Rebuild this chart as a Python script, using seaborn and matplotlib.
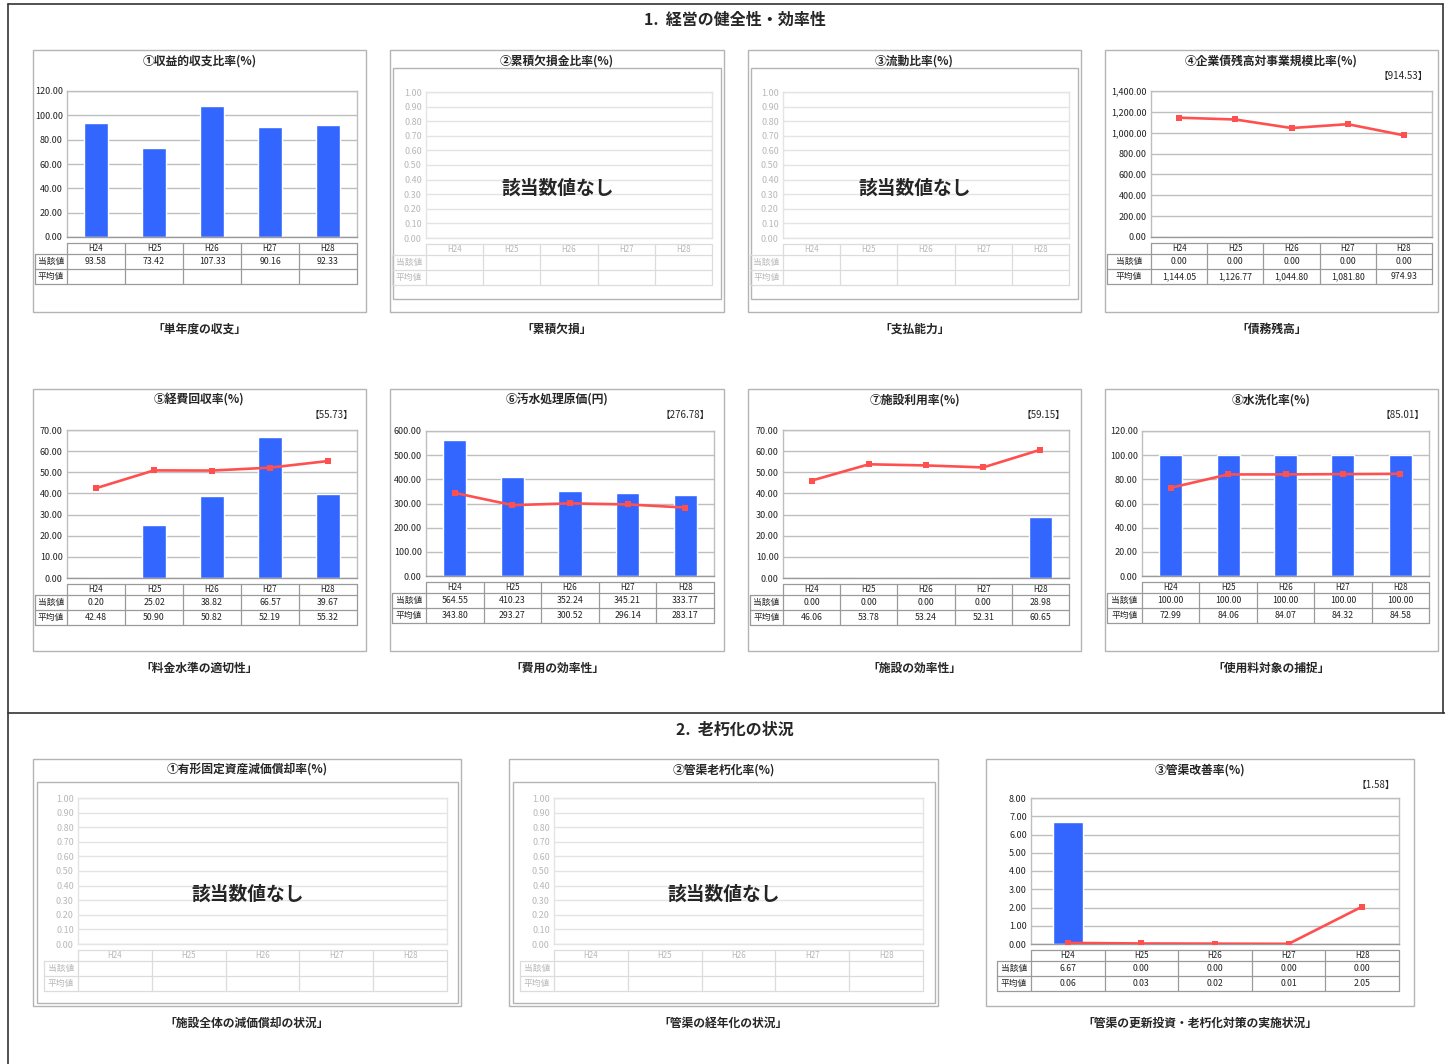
import numpy as np
import pandas as pd
import seaborn as sns
import matplotlib.pyplot as plt
from matplotlib.patches import Rectangle

sns.set_theme(style="white")
plt.rcParams['font.family'] = ['Noto Sans CJK JP', 'DejaVu Sans']

W, H = 1445, 1064
years = ["H24", "H25", "H26", "H27", "H28"]

# ---- values ----
p1_cur = [93.58, 73.42, 107.33, 90.16, 92.33]
p4_cur = [0.00, 0.00, 0.00, 0.00, 0.00]
p4_avg = [1144.05, 1126.77, 1044.80, 1081.80, 974.93]
p5_cur = [0.20, 25.02, 38.82, 66.57, 39.67]
p5_avg = [42.48, 50.90, 50.82, 52.19, 55.32]
p6_cur = [564.55, 410.23, 352.24, 345.21, 333.77]
p6_avg = [343.80, 293.27, 300.52, 296.14, 283.17]
p7_cur = [0.00, 0.00, 0.00, 0.00, 28.98]
p7_avg = [46.06, 53.78, 53.24, 52.31, 60.65]
p8_cur = [100.00, 100.00, 100.00, 100.00, 100.00]
p8_avg = [72.99, 84.06, 84.07, 84.32, 84.58]
b3_cur = [6.67, 0.00, 0.00, 0.00, 0.00]
b3_avg = [0.06, 0.03, 0.02, 0.01, 2.05]

BLUE = "#3366FF"
RED = "#FF5050"

fig = plt.figure(figsize=(W / 100, H / 100), dpi=100)
ov = fig.add_axes([0, 0, 1, 1])
ov.set_xlim(0, W)
ov.set_ylim(H, 0)
ov.axis("off")


def box(x0, y0, x1, y1, color="#A8A8A8", lw=0.9):
    ov.add_patch(Rectangle((x0, y0), x1 - x0, y1 - y0, fill=False, ec=color, lw=lw))


def add_ax(x0, y0, x1, y1):
    return fig.add_axes([x0 / W, 1 - y1 / H, (x1 - x0) / W, (y1 - y0) / H])


def fmt(v):
    return f"{v:,.2f}"


def panel(rect, plot, title, caption, cur=None, avg=None, ymax=1.0, ystep=0.1,
          bracket=None, empty=False, inner=None, lab_x=None):
    x0, y0, x1, y1 = rect
    px0, py0, px1, py1 = plot
    box(x0, y0, x1, y1, "#B4B4B4", 1.0)
    if inner:
        box(*inner, color="#B4B4B4", lw=1.0)
    ov.text((x0 + x1) / 2, y0 + 11, title, ha="center", va="center",
            fontsize=8.5, fontweight="bold")
    ov.text((x0 + x1) / 2, y1 + 17, caption, ha="center", va="center",
            fontsize=8.5, fontweight="bold")
    if bracket:
        ov.text(px1 - 4, y0 + 26, bracket, ha="right", va="center", fontsize=7)

    grid_c = "#E4E4E4" if empty else "#BEBEBE"
    tick_c = "#B8B8B8" if empty else "#222222"
    line_c = "#DCDCDC" if empty else "#9A9A9A"

    ax = add_ax(px0, py0, px1, py1)
    df = pd.DataFrame({"year": years})
    if cur is not None:
        df["cur"] = cur
        sns.barplot(data=df, x="year", y="cur", color=BLUE, saturation=1,
                    width=0.4, ax=ax, zorder=2)
    if avg is not None:
        df["avg"] = avg
        sns.lineplot(data=df, x="year", y="avg", color=RED, lw=1.9, marker="s",
                     markersize=5, markeredgewidth=0, ax=ax, zorder=3)
    ax.set_xlim(-0.5, 4.5)
    ax.set_ylim(0, ymax)
    ticks = np.arange(0, ymax + ystep / 2, ystep)
    ax.set_yticks(ticks)
    ax.set_yticklabels([fmt(t) for t in ticks])
    ax.set_xticks([])
    ax.set_xlabel("")
    ax.set_ylabel("")
    ax.grid(axis="y", color=grid_c, lw=1.0)
    ax.set_axisbelow(True)
    ax.tick_params(axis="y", length=0, labelsize=6.5, colors=tick_c, pad=3)
    for s in ax.spines.values():
        s.set_color(grid_c)
        s.set_linewidth(1.0)
    ax.spines["bottom"].set_color("#9A9A9A" if not empty else grid_c)
    if empty:
        ax.text(0.46, 0.34, "該当数値なし", transform=ax.transAxes,
                ha="center", va="center", fontsize=13.5, fontweight="bold")

    # data table under the chart
    cw = (px1 - px0) / 5
    ty0, ty1, ty2, ty3 = py1 + 6, py1 + 17, py1 + 32, py1 + 47
    lx = lab_x if lab_x is not None else x0 + 2
    ov.plot([px0, px1], [ty0, ty0], color=line_c, lw=0.9)
    for yy in (ty1, ty2, ty3):
        ov.plot([lx, px1], [yy, yy], color=line_c, lw=0.9)
    ov.plot([lx, lx], [ty1, ty3], color=line_c, lw=0.9)
    for i in range(6):
        xx = px0 + i * cw
        ov.plot([xx, xx], [ty0, ty3], color=line_c, lw=0.9)
    for i, yr in enumerate(years):
        cx = px0 + (i + 0.5) * cw
        ov.text(cx, (ty0 + ty1) / 2, yr, ha="center", va="center", fontsize=5.8,
                color=tick_c)
        if cur is not None:
            ov.text(cx, (ty1 + ty2) / 2, fmt(cur[i]), ha="center", va="center",
                    fontsize=6.3, color=tick_c)
        if avg is not None:
            ov.text(cx, (ty2 + ty3) / 2, fmt(avg[i]), ha="center", va="center",
                    fontsize=6.3, color=tick_c)
    ov.text((lx + px0) / 2, (ty1 + ty2) / 2, "当該値", ha="center", va="center",
            fontsize=6.3, color=tick_c)
    ov.text((lx + px0) / 2, (ty2 + ty3) / 2, "平均値", ha="center", va="center",
            fontsize=6.3, color=tick_c)


# section frames and headings
ov.plot([8, 8], [4, H], color="#333333", lw=1.2)
ov.plot([8, 1443], [4, 4], color="#333333", lw=1.2)
ov.plot([1443, 1443], [4, 713], color="#333333", lw=1.2)
ov.plot([8, W], [713, 713], color="#333333", lw=1.2)
ov.text(735, 20, "1.  経営の健全性・効率性", ha="center", va="center",
        fontsize=11.5, fontweight="bold")
ov.text(735, 730, "2.  老朽化の状況", ha="center", va="center",
        fontsize=11.5, fontweight="bold")

# row 1
panel((33, 50, 366, 312), (67, 91, 357, 237), "①収益的収支比率(%)", "「単年度の収支」",
      cur=p1_cur, ymax=120, ystep=20)
panel((390, 50, 724, 312), (426, 92, 712, 238), "②累積欠損金比率(%)", "「累積欠損」",
      empty=True, inner=(393, 68, 721, 299), lab_x=392)
panel((748, 50, 1081, 312), (783, 92, 1069, 238), "③流動比率(%)", "「支払能力」",
      empty=True, inner=(751, 68, 1078, 299), lab_x=750)
panel((1105, 50, 1438, 312), (1151, 91, 1432, 237), "④企業債残高対事業規模比率(%)", "「債務残高」",
      cur=p4_cur, avg=p4_avg, ymax=1400, ystep=200, bracket="【914.53】")

# row 2
panel((33, 389, 366, 651), (67, 430, 357, 578), "⑤経費回収率(%)", "「料金水準の適切性」",
      cur=p5_cur, avg=p5_avg, ymax=70, ystep=10, bracket="【55.73】")
panel((390, 389, 724, 651), (426, 431, 714, 576), "⑥汚水処理原価(円)", "「費用の効率性」",
      cur=p6_cur, avg=p6_avg, ymax=600, ystep=100, bracket="【276.78】")
panel((748, 389, 1081, 651), (783, 430, 1069, 578), "⑦施設利用率(%)", "「施設の効率性」",
      cur=p7_cur, avg=p7_avg, ymax=70, ystep=10, bracket="【59.15】")
panel((1105, 389, 1438, 651), (1142, 431, 1429, 576), "⑧水洗化率(%)", "「使用料対象の捕捉」",
      cur=p8_cur, avg=p8_avg, ymax=120, ystep=20, bracket="【85.01】")

# row 3
panel((33, 759, 461, 1006), (78, 798, 447, 944), "①有形固定資産減価償却率(%)",
      "「施設全体の減価償却の状況」", empty=True, inner=(37, 782, 458, 1003), lab_x=44)
panel((509, 759, 938, 1006), (554, 798, 923, 944), "②管渠老朽化率(%)",
      "「管渠の経年化の状況」", empty=True, inner=(513, 782, 935, 1003), lab_x=520)
panel((986, 759, 1414, 1006), (1031, 798, 1399, 944), "③管渠改善率(%)",
      "「管渠の更新投資・老朽化対策の実施状況」", cur=b3_cur, avg=b3_avg,
      ymax=8, ystep=1, bracket="【1.58】", lab_x=997)

fig.savefig("out.png", dpi=100)
